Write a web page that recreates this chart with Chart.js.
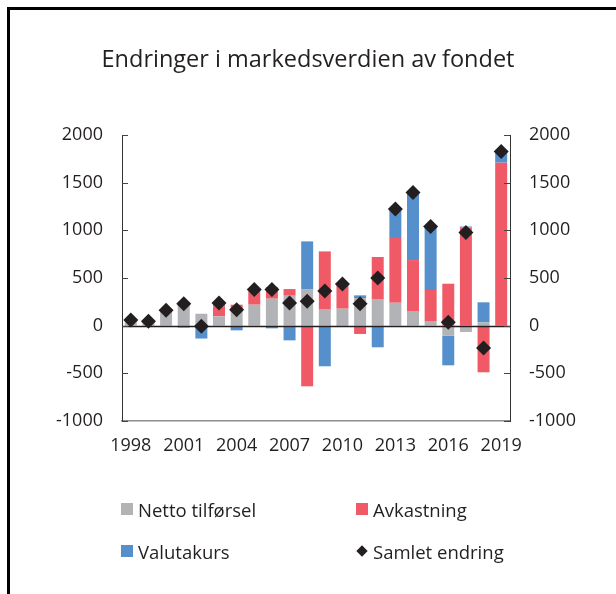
<!DOCTYPE html>
<html>
<head>
<meta charset="utf-8">
<script src="https://cdn.jsdelivr.net/npm/chart.js@4.4.1/dist/chart.umd.min.js"></script>
<style>
  html, body { margin: 0; padding: 0; background: #fff; }
  .wrap { position: relative; width: 616px; height: 594px; overflow: hidden; }
  canvas { position: absolute; left: 0; top: 0; }
  .frame { position: absolute; left: 7px; top: 7px; right: -10px; bottom: -10px;
           border-left: 3px solid #000; border-top: 3px solid #000; pointer-events: none; }
  .legend { position: absolute; left: 0; top: 0; width: 616px; height: 594px; pointer-events: none;
            font-family: "Open Sans", sans-serif; font-size: 18.5px; color: #231f20; }
  .item { position: absolute; display: flex; align-items: center; height: 24px; }
  .box { width: 12px; height: 12px; margin-right: 5px; }
  .dia { width: 8px; height: 8px; margin: 0 7px 0 2px; background: #231f20; transform: rotate(45deg); }
</style>
</head>
<body>
<div class="wrap">
  <canvas id="myChart" width="616" height="594"></canvas>
  <div class="legend" id="legend"></div>
  <div class="frame"></div>
</div>
<script>
const years = ['1998', '1999', '2000', '2001', '2002', '2003', '2004', '2005', '2006', '2007', '2008',
               '2009', '2010', '2011', '2012', '2013', '2014', '2015', '2016', '2017', '2018', '2019'];

const nettoTilforsel = [35, 28, 150, 250, 125, 98, 150, 220, 283, 314, 384,
                        168, 178, 290, 273, 241, 147, 42, -105, -66, 35, -10];
const avkastning = [10, 10, 10, 0, 0, 105, 70, 140, 122, 70, -636,
                    611, 259, -87, 447, 688, 541, 332, 440, 1030, -489, 1710];
const valutakurs = [10, 5, 0, -20, -135, 35, -49, 20, -28, -154, 500,
                    -426, -5, 28, -227, 294, 702, 667, -311, 10, 210, 125];
const samletEndring = [60, 47, 161, 231, -7, 237, 168, 380, 380, 238, 255,
                       363, 437, 231, 500, 1223, 1397, 1041, 35, 978, -234, 1827];

const yTicks = [-1000, -500, 0, 500, 1000, 1500, 2000];

const textColor = '#231f20';
const fontFamily = '"Open Sans", sans-serif';

// inward tick marks and zero line
const axisExtras = {
    id: 'axisExtras',
    beforeDatasetDraw(chart, args) {
        if (chart.data.datasets[args.index].type !== 'line') return;
        const { ctx, chartArea } = chart;
        const y = chart.scales.y;
        ctx.save();
        ctx.strokeStyle = textColor;
        ctx.lineWidth = 1.5;
        const y0 = Math.round(y.getPixelForValue(0)) + 0.5;
        ctx.beginPath();
        ctx.moveTo(chartArea.left, y0);
        ctx.lineTo(chartArea.right, y0);
        ctx.stroke();
        ctx.restore();
    },
    afterDraw(chart) {
        const { ctx, chartArea } = chart;
        const y = chart.scales.y;
        ctx.save();
        ctx.strokeStyle = '#444';
        ctx.lineWidth = 1;
        yTicks.forEach(v => {
            const py = Math.round(y.getPixelForValue(v)) + 0.5;
            ctx.beginPath();
            ctx.moveTo(chartArea.left, py);
            ctx.lineTo(chartArea.left + 6, py);
            ctx.moveTo(chartArea.right - 6, py);
            ctx.lineTo(chartArea.right, py);
            ctx.stroke();
        });
        ctx.restore();
    }
};

const yTickOpts = {
    stepSize: 500,
    padding: 19,
    color: textColor,
    font: { family: fontFamily, size: 18 },
    callback: v => String(v)
};

const ctx = document.querySelector('#myChart');

const myChart = new Chart(ctx, {
    data: {
        labels: years,
        datasets: [{
            type: 'line',
            label: 'Samlet endring',
            data: samletEndring,
            showLine: false,
            stack: 'total',
            pointStyle: 'rectRot',
            pointRadius: 7.5,
            pointBackgroundColor: textColor,
            pointBorderColor: textColor,
            pointBorderWidth: 0,
            order: 0
        },
        {
            type: 'bar',
            label: 'Netto tilførsel',
            data: nettoTilforsel,
            backgroundColor: '#b2b3b6',
            stack: 'bars',
            order: 1
        },
        {
            type: 'bar',
            label: 'Avkastning',
            data: avkastning,
            backgroundColor: '#f05a66',
            stack: 'bars',
            order: 1
        },
        {
            type: 'bar',
            label: 'Valutakurs',
            data: valutakurs,
            backgroundColor: '#5590cc',
            stack: 'bars',
            order: 1
        }]
    },
    options: {
        responsive: false,
        animation: false,
        events: [],
        datasets: {
            bar: { barPercentage: 0.68, categoryPercentage: 1 }
        },
        layout: { padding: { left: 0, right: 0, top: 0, bottom: 0 } },
        plugins: {
            legend: { display: false },
            tooltip: { enabled: false },
            title: {
                display: true,
                text: 'Endringer i markedsverdien av fondet',
                color: textColor,
                font: { family: fontFamily, size: 23.5, weight: 'normal', lineHeight: 1.2 },
                padding: { top: 46, bottom: 60.8 }
            }
        },
        scales: {
            x: {
                stacked: true,
                grid: { display: false, drawTicks: false },
                border: { display: true, color: '#8c8c8c', width: 1.5 },
                ticks: {
                    autoSkip: false,
                    maxRotation: 0,
                    padding: 14,
                    color: textColor,
                    font: { family: fontFamily, size: 18 },
                    callback: (v, i) => (i % 3 === 0 ? years[i] : '')
                },
                afterFit: scale => { scale.height = 173; }
            },
            y: {
                position: 'left',
                stacked: true,
                min: -1000,
                max: 2000,
                grid: { display: false, drawTicks: false },
                border: { display: true, color: '#333', width: 1 },
                ticks: yTickOpts,
                afterFit: scale => { scale.width = 122; }
            },
            y2: {
                position: 'right',
                min: -1000,
                max: 2000,
                grid: { display: false, drawTicks: false },
                border: { display: true, color: '#333', width: 1 },
                ticks: yTickOpts,
                afterFit: scale => { scale.width = 106; }
            }
        }
    },
    plugins: [axisExtras]
});

// legend in two columns, built from the chart's datasets
const legendEl = document.getElementById('legend');
const legendPos = {
    'Netto tilførsel': [121, 497],
    'Avkastning': [356, 497],
    'Valutakurs': [121, 539],
    'Samlet endring': [356, 539]
};
myChart.data.datasets.forEach(ds => {
    const item = document.createElement('div');
    item.className = 'item';
    item.style.left = legendPos[ds.label][0] + 'px';
    item.style.top = legendPos[ds.label][1] + 'px';
    const mark = document.createElement('span');
    if (ds.type === 'line') {
        mark.className = 'dia';
    } else {
        mark.className = 'box';
        mark.style.background = ds.backgroundColor;
    }
    const txt = document.createElement('span');
    txt.textContent = ds.label;
    item.appendChild(mark);
    item.appendChild(txt);
    legendEl.appendChild(item);
});
</script>
</body>
</html>
